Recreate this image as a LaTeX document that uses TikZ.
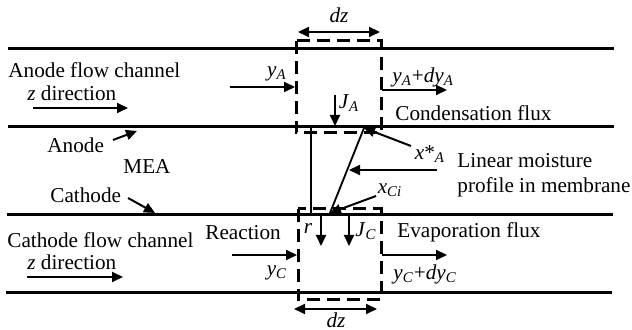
\documentclass[tikz,border=0pt]{standalone}
\usepackage{fontspec}
\setmainfont{Liberation Serif}
\usetikzlibrary{arrows.meta}
\newcommand{\Sym}[2]{\textit{#1}\textsubscript{\textit{#2}}}

\begin{document}
\begin{tikzpicture}[x=0.5pt, y=-0.5pt,
    wall/.style={line width=1.5pt},
    cvbox/.style={line width=1.5pt, dash pattern=on 6.5pt off 3.5pt},
    arr/.style={-{Triangle[length=5.5pt, width=5pt]}, line width=1pt},
    dzarr/.style={{Triangle[length=5.5pt, width=5pt]}-{Triangle[length=5.5pt, width=5pt]}, line width=1pt},
    prof/.style={line width=0.9pt},
    lbl/.style={font=\fontsize{10.6}{12.5}\selectfont, inner sep=0pt},
  ]
    \useasboundingbox (0,0) rectangle (632,330);

    % --- channel walls ---
    \coordinate (w1l) at (8,49);   \coordinate (w1r) at (614,49);
    \coordinate (w2l) at (8,127);  \coordinate (w2r) at (614,127);
    \coordinate (w3l) at (7,215);  \coordinate (w3r) at (613,215);
    \coordinate (w4l) at (6,293);  \coordinate (w4r) at (612,293);
    \draw[wall] (w1l) -- (w1r);
    \draw[wall] (w2l) -- (w2r);
    \draw[wall] (w3l) -- (w3r);
    \draw[wall] (w4l) -- (w4r);

    % --- control volumes ---
    \coordinate (cvA1) at (296,41);  \coordinate (cvA2) at (381,133);
    \coordinate (cvC1) at (298,209); \coordinate (cvC2) at (381,300);
    \draw[cvbox] (cvA1) rectangle (cvA2);
    \draw[cvbox] (cvC1) rectangle (cvC2);

    % --- dz arrows ---
    \coordinate (dzA1) at (298,32);  \coordinate (dzA2) at (380,32);
    \coordinate (dzC1) at (294,309); \coordinate (dzC2) at (377,309);
    \draw[dzarr] (dzA1) -- (dzA2);
    \draw[dzarr] (dzC1) -- (dzC2);
    \node[lbl] (dzA) at (339,15)  {\textit{dz}};
    \node[lbl] (dzC) at (336,320) {\textit{dz}};

    % --- left side labels ---
    \node[lbl, anchor=west] (anch)  at (8,70)   {Anode flow channel};
    \node[lbl, anchor=west] (azdir) at (27,93)  {\textit{z} direction};
    \node[lbl, anchor=west] (anode) at (47,145) {Anode};
    \node[lbl]              (mea)   at (147,167){MEA};
    \node[lbl, anchor=west] (cath)  at (50,195) {Cathode};
    \node[lbl, anchor=west] (cach)  at (7,240)  {Cathode flow channel};
    \node[lbl, anchor=west] (czdir) at (27,262) {\textit{z} direction};
    \node[lbl, anchor=west] (react) at (205,233){Reaction};

    \coordinate (azs) at (33,108);  \coordinate (aze) at (128,108);
    \coordinate (czs) at (27,277);  \coordinate (cze) at (123,277);
    \coordinate (ans) at (113,140); \coordinate (ane) at (137,131);
    \coordinate (cas) at (128,198); \coordinate (cae) at (155,213);
    \draw[arr] (azs) -- (aze);
    \draw[arr] (czs) -- (cze);
    \draw[arr] (ans) -- (ane);
    \draw[arr] (cas) -- (cae);

    % --- anode channel flows ---
    \node[lbl] (yA)  at (277,74) {\Sym{y}{A}};
    \node[lbl, anchor=west] (yAd) at (392,77) {\Sym{y}{A}+\Sym{dy}{A}};
    \node[lbl] (JA)  at (349,103) {\Sym{J}{A}};
    \node[lbl, anchor=west] (cond) at (395,113) {Condensation flux};
    \coordinate (yAs)  at (230,87);  \coordinate (yAe)  at (295,87);
    \coordinate (yAds) at (382,90);  \coordinate (yAde) at (447,90);
    \coordinate (JAs)  at (335,95);  \coordinate (JAe)  at (335,126);
    \draw[arr] (yAs) -- (yAe);
    \draw[arr] (yAds) -- (yAde);
    \draw[arr] (JAs) -- (JAe);

    % --- membrane profile ---
    \coordinate (mtop) at (311,127); \coordinate (mbot) at (311,215);
    \coordinate (xA)   at (364,128); \coordinate (xC)   at (330,213);
    \draw[prof] (mtop) -- (mbot);
    \draw[prof] (xA) -- (xC);

    \node[lbl] (xAl) at (430,154) {\textit{x}*\textsubscript{\textit{A}}};
    \node[lbl] (xCl) at (390,190) {\Sym{x}{Ci}};
    \node[lbl, anchor=west, align=left] (lin) at (457,175)
      {Linear moisture\\profile in membrane};
    \coordinate (xAs)  at (411,146);
    \coordinate (xCs)  at (376,196);
    \coordinate (lins) at (437,170); \coordinate (line) at (349,170);
    \draw[arr] (xAs) -- (xA);
    \draw[arr] (xCs) -- (xC);
    \draw[arr] (lins) -- (line);

    % --- cathode channel flows ---
    \node[lbl] (yC)  at (277,273) {\Sym{y}{C}};
    \node[lbl, anchor=west] (yCd) at (393,274) {\Sym{y}{C}+\Sym{dy}{C}};
    \node[lbl] (rl)  at (308,229) {\textit{r}};
    \node[lbl] (JC)  at (366,231) {\Sym{J}{C}};
    \node[lbl, anchor=west] (evap) at (397,232) {Evaporation flux};
    \coordinate (yCs)  at (232,255); \coordinate (yCe)  at (297,255);
    \coordinate (yCds) at (382,255); \coordinate (yCde) at (447,255);
    \coordinate (rs)   at (321,216); \coordinate (re)   at (321,246);
    \coordinate (JCs)  at (349,216); \coordinate (JCe)  at (349,246);
    \draw[arr] (yCs) -- (yCe);
    \draw[arr] (yCds) -- (yCde);
    \draw[arr] (rs) -- (re);
    \draw[arr] (JCs) -- (JCe);
\end{tikzpicture}
\end{document}
